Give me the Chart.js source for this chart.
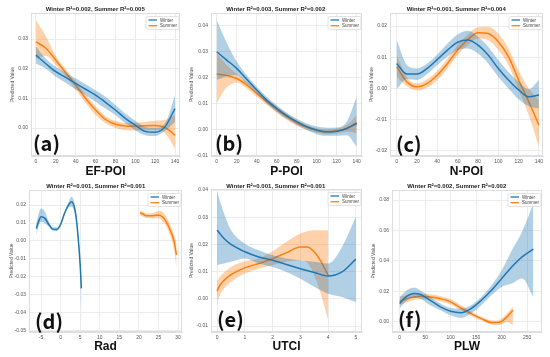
<!DOCTYPE html>
<html>
<head>
<meta charset="utf-8">
<script src="https://cdn.jsdelivr.net/npm/chart.js@4.4.0/dist/chart.umd.min.js"></script>
<style>
body { margin: 0; background: #fff; width: 550px; height: 357px; overflow: hidden; position: relative; }
canvas { position: absolute; }
.tag { position: absolute; font-family: "Noto Sans CJK SC", sans-serif; font-size: 20px; line-height: 20px; color: #111; font-weight: 700; }
</style>
</head>
<body>
<script>
// ---- data ----
const poiX = [0, 10, 20, 30, 40, 50, 60, 70, 80, 90, 100, 110, 120, 130, 140];

// (a) EF-POI
const efWinterMid = [0.0246, 0.0217, 0.019, 0.0171, 0.0151, 0.0131, 0.0111, 0.0087, 0.0061, 0.0033, 0.001, -0.0011, -0.0014, 0.0005, 0.0066];
const efWinterLo  = [0.0218, 0.0200, 0.0173, 0.0153, 0.013, 0.0111, 0.0089, 0.0066, 0.0044, 0.0016, -0.0007, -0.0024, -0.0027, -0.0009, 0.0021];
const efWinterHi  = [0.0274, 0.0234, 0.0207, 0.0187, 0.0167, 0.0148, 0.0128, 0.0106, 0.0078, 0.0049, 0.0025, 0.0004, 0.0001, 0.0016, 0.0111];
const efSummerMid = [0.0291, 0.0269, 0.0229, 0.0187, 0.0145, 0.010, 0.0061, 0.0029, 0.0013, 0.0007, 0.0006, 0.0008, 0.0009, 0.0002, -0.0024];
const efSummerLo  = [0.0235, 0.0243, 0.0212, 0.0175, 0.013, 0.0085, 0.0044, 0.0016, 0.0, -0.0007, -0.0008, -0.0007, -0.0007, -0.0018, -0.0069];
const efSummerHi  = [0.0364, 0.031, 0.0243, 0.0198, 0.0156, 0.0113, 0.0074, 0.004, 0.0025, 0.0018, 0.0018, 0.0021, 0.0025, 0.0027, 0.0044];

// (b) P-POI
const pWinterMid = [0.030, 0.0268, 0.0236, 0.0194, 0.0153, 0.0114, 0.0082, 0.0054, 0.0031, 0.0012, -0.0001, -0.0008, -0.0006, 0.0005, 0.0026];
const pWinterLo  = [0.0191, 0.0206, 0.021, 0.0176, 0.014, 0.0101, 0.0069, 0.0042, 0.0019, -0.0001, -0.0017, -0.0023, -0.0023, -0.0021, -0.0065];
const pWinterHi  = [0.0422, 0.0335, 0.0262, 0.021, 0.0165, 0.0127, 0.0094, 0.0065, 0.0042, 0.0024, 0.0012, 0.0008, 0.0009, 0.0031, 0.0127];
const pSummerMid = [0.0214, 0.0209, 0.0197, 0.0172, 0.014, 0.0108, 0.0078, 0.005, 0.0027, 0.0009, -0.0003, -0.0008, -0.0005, 0.0005, 0.0022];
const pSummerLo  = [0.0101, 0.0163, 0.0182, 0.0159, 0.0127, 0.0096, 0.0065, 0.0037, 0.0015, -0.0001, -0.0012, -0.0018, -0.0015, -0.0008, -0.0014];
const pSummerHi  = [0.0294, 0.0249, 0.0214, 0.0185, 0.0153, 0.0119, 0.009, 0.0062, 0.0037, 0.0019, 0.0006, 0.0003, 0.0005, 0.0019, 0.0056];

// (c) N-POI
const nWinterMid = [0.008, 0.0046, 0.0046, 0.0064, 0.0093, 0.0123, 0.0148, 0.0155, 0.0139, 0.0107, 0.0064, 0.0027, -0.0005, -0.0027, -0.0021];
const nWinterLo  = [-0.0003, 0.0029, 0.0027, 0.0046, 0.0075, 0.0102, 0.0123, 0.0128, 0.0112, 0.008, 0.0037, 0.0, -0.0035, -0.0057, -0.0064];
const nWinterHi  = [0.0155, 0.0075, 0.0064, 0.008, 0.0109, 0.0144, 0.0173, 0.0185, 0.0166, 0.0134, 0.0091, 0.0053, 0.0021, -0.0003, 0.0027];
const nSummerMid = [0.007, 0.0021, 0.0005, 0.0016, 0.0043, 0.008, 0.0123, 0.0157, 0.0179, 0.0176, 0.015, 0.0102, 0.0027, -0.0043, -0.0118];
const nSummerLo  = [0.0037, 0.0007, -0.0007, 0.0003, 0.0027, 0.0064, 0.0107, 0.0139, 0.016, 0.0155, 0.0123, 0.0075, -0.0005, -0.0086, -0.0187];
const nSummerHi  = [0.0107, 0.0035, 0.0016, 0.0029, 0.0057, 0.0096, 0.0139, 0.0174, 0.0196, 0.0198, 0.0176, 0.0128, 0.0057, 0.0, -0.0037];

// (d) Rad
const radWinterX   = [-6.2, -5.5, -5, -4, -3, -2, -1, 0, 1, 2, 2.8, 3.5, 4, 4.5, 5, 5.3];
const radWinterMid = [0.007, 0.0116, 0.0135, 0.0126, 0.0092, 0.0066, 0.0064, 0.0092, 0.0154, 0.020, 0.0219, 0.019, 0.0126, 0.0014, -0.0134, -0.0264];
const radWinterLo  = [0.0033, 0.0089, 0.0107, 0.0098, 0.0079, 0.0057, 0.0055, 0.0083, 0.0144, 0.0187, 0.0191, 0.0163, 0.0107, -0.0004, -0.0171, -0.0469];
const radWinterHi  = [0.0098, 0.0159, 0.0181, 0.0163, 0.0107, 0.0076, 0.0076, 0.0102, 0.0163, 0.0215, 0.0246, 0.0215, 0.0144, 0.0033, -0.0097, -0.019];
const radSummerX   = [20.3, 21, 22, 23, 24, 25, 26, 27, 28, 29, 29.6];
const radSummerMid = [0.0157, 0.015, 0.014, 0.014, 0.0142, 0.0144, 0.0135, 0.0107, 0.006, -0.0004, -0.0078];
const radSummerLo  = [0.0141, 0.0137, 0.0128, 0.0128, 0.0126, 0.0126, 0.0111, 0.0079, 0.0029, -0.0051, -0.0153];
const radSummerHi  = [0.017, 0.0163, 0.0155, 0.0155, 0.0159, 0.0167, 0.0163, 0.0135, 0.0089, 0.0033, -0.0014];

// (e) UTCI
const utciWinterX   = [0, 0.25, 0.5, 1, 1.5, 2, 2.5, 3, 3.5, 4, 4.5, 5];
const utciWinterMid = [0.0253, 0.0222, 0.020, 0.0173, 0.0154, 0.0142, 0.0126, 0.0111, 0.0097, 0.0084, 0.0099, 0.0146];
const utciWinterLo  = [0.0124, 0.013, 0.0136, 0.0148, 0.013, 0.0117, 0.0099, 0.0074, 0.0044, 0.0019, 0.0007, -0.0012];
const utciWinterHi  = [0.0394, 0.0314, 0.0253, 0.0203, 0.0179, 0.016, 0.0148, 0.0142, 0.0136, 0.013, 0.0191, 0.0302];
const utciSummerX   = [0, 0.1, 0.25, 0.5, 1, 1.5, 2, 2.5, 3, 3.25, 3.5, 3.75, 4];
const utciSummerMid = [0.0028, 0.005, 0.0068, 0.0089, 0.0114, 0.013, 0.0148, 0.017, 0.0191, 0.0191, 0.0172, 0.0136, 0.0087];
const utciSummerLo  = [-0.0018, 0.0013, 0.0038, 0.0062, 0.0093, 0.0111, 0.0124, 0.0136, 0.0142, 0.0133, 0.0087, 0.0013, -0.0079];
const utciSummerHi  = [0.0065, 0.0081, 0.0097, 0.0117, 0.0138, 0.0148, 0.0175, 0.021, 0.024, 0.0249, 0.0252, 0.0252, 0.0252];

// (f) PLW
const plwWinterX   = [0, 10, 20, 30, 40, 60, 80, 100, 120, 140, 160, 180, 200, 220, 240, 262];
const plwWinterMid = [0.0121, 0.0158, 0.018, 0.0186, 0.0182, 0.0142, 0.0099, 0.007, 0.0061, 0.0088, 0.0142, 0.0208, 0.0285, 0.0362, 0.0427, 0.0478];
const plwWinterLo  = [0.0088, 0.0127, 0.0153, 0.0158, 0.0153, 0.011, 0.0077, 0.0044, 0.0026, 0.0055, 0.011, 0.0175, 0.023, 0.0252, 0.0285, 0.0164];
const plwWinterHi  = [0.0164, 0.0197, 0.0219, 0.0224, 0.0208, 0.0164, 0.0121, 0.0092, 0.0088, 0.011, 0.0164, 0.0241, 0.034, 0.0471, 0.0592, 0.0778];
const plwSummerX   = [0, 20, 40, 60, 80, 100, 120, 140, 160, 180, 190, 200, 210, 222];
const plwSummerMid = [0.0136, 0.0158, 0.0169, 0.0164, 0.0153, 0.0132, 0.0092, 0.0055, 0.0022, -0.0004, -0.0004, 0.0004, 0.0033, 0.0077];
const plwSummerLo  = [0.011, 0.0136, 0.0149, 0.0147, 0.0136, 0.0114, 0.0077, 0.0039, 0.0009, -0.0018, -0.0022, -0.0015, 0.0, -0.0022];
const plwSummerHi  = [0.0164, 0.018, 0.0186, 0.0182, 0.0171, 0.0149, 0.011, 0.007, 0.0033, 0.0011, 0.0009, 0.0022, 0.0055, 0.0099];

const seriesNames = ['Winter', 'Summer'];
const titles = [
  'Winter R²=0.002, Summer R²=0.005',
  'Winter R²=0.003, Summer R²=0.002',
  'Winter R²=0.001, Summer R²=0.004',
  'Winter R²=0.001, Summer R²=0.001',
  'Winter R²=0.001, Summer R²=0.001',
  'Winter R²=0.002, Summer R²=0.002'
];
const xTitles = ['EF-POI', 'P-POI', 'N-POI', 'Rad', 'UTCI', 'PLW'];
const tags = ['(a)', '(b)', '(c)', '(d)', '(e)', '(f)'];

// ---- layout ----
const BLUE = '#1f77b4', ORANGE = '#ff7f0e';
const BLUE_BAND = 'rgba(31,119,180,0.35)', ORANGE_BAND = 'rgba(255,127,14,0.35)';

Chart.defaults.font.family = '"Liberation Sans", Arial, sans-serif';

// box: canvas [left, top, w, h]; plot: [L, T, R, B] absolute; yt: y title centre x
const panels = [
  { box: [0, 0, 183, 182], plot: [31, 13, 180, 156], yt: 13, x: [-5, 145, 20], y: [-0.0094, 0.0388, 0.01], tag: [33, 133],
    w: [poiX, efWinterMid, efWinterLo, efWinterHi], s: [poiX, efSummerMid, efSummerLo, efSummerHi] },
  { box: [183, 0, 183, 182], plot: [211, 13, 362, 156], yt: 192, x: [-5.7, 145.3, 20], y: [-0.0101, 0.0449, 0.01], tag: [215, 133],
    w: [poiX, pWinterMid, pWinterLo, pWinterHi], s: [poiX, pSummerMid, pSummerLo, pSummerHi] },
  { box: [366, 0, 184, 182], plot: [390, 13, 543, 156], yt: 372, x: [-6.6, 144, 20], y: [-0.0217, 0.0242, 0.01], tag: [396, 134],
    w: [poiX, nWinterMid, nWinterLo, nWinterHi], s: [poiX, nSummerMid, nSummerLo, nSummerHi] },
  { box: [0, 176, 183, 181], plot: [29, 190, 182, 332], yt: 12, x: [-8.07, 31, 5], y: [-0.0507, 0.0284, 0.01], tag: [35, 311],
    w: [radWinterX, radWinterMid, radWinterLo, radWinterHi], s: [radSummerX, radSummerMid, radSummerLo, radSummerHi] },
  { box: [183, 176, 183, 181], plot: [211, 189, 362, 332], yt: 192, x: [-0.22, 5.22, 1], y: [-0.0122, 0.0404, 0.01], tag: [217, 309],
    w: [utciWinterX, utciWinterMid, utciWinterLo, utciWinterHi], s: [utciSummerX, utciSummerMid, utciSummerLo, utciSummerHi] },
  { box: [366, 176, 184, 181], plot: [392, 190, 542, 332], yt: 374, x: [-15, 279, 50], y: [-0.0066, 0.0866, 0.02], tag: [398, 309],
    w: [plwWinterX, plwWinterMid, plwWinterLo, plwWinterHi], s: [plwSummerX, plwSummerMid, plwSummerLo, plwSummerHi] }
];

const pts = (xs, ys) => xs.map((x, i) => ({ x: x, y: ys[i] }));

function bandSets(ser, line, band) {
  const [xs, mid, lo, hi] = ser;
  const common = { pointRadius: 0, cubicInterpolationMode: 'monotone' };
  return [
    { ...common, data: pts(xs, hi), borderWidth: 0, borderColor: 'transparent', fill: false },
    { ...common, data: pts(xs, lo), borderWidth: 0, borderColor: 'transparent', backgroundColor: band, fill: '-1' },
    { ...common, data: pts(xs, mid), borderWidth: 1.5, borderColor: line, fill: false }
  ];
}

const framePlugin = {
  id: 'frame',
  beforeDatasetsDraw(chart) {
    const { ctx, chartArea: a } = chart;
    ctx.save();
    ctx.strokeStyle = '#dedede';
    ctx.lineWidth = 1;
    ctx.strokeRect(a.left + 0.5, a.top + 0.5, a.width - 1, a.height - 1);
    ctx.restore();
  },
  afterDraw(chart) {
    const { ctx, chartArea: a } = chart;
    const w = 33, h = 13, bx = a.right - w - 1, by = a.top + 3.5;
    ctx.save();
    ctx.fillStyle = 'rgba(255,255,255,0.85)';
    ctx.strokeStyle = '#d0d0d0';
    ctx.lineWidth = 0.6;
    ctx.beginPath();
    ctx.roundRect(bx, by, w, h, 1.5);
    ctx.fill();
    ctx.stroke();
    [BLUE, ORANGE].forEach((c, i) => {
      const yy = by + 3.5 + i * 5.7;
      ctx.strokeStyle = c;
      ctx.lineWidth = 1.3;
      ctx.beginPath();
      ctx.moveTo(bx + 2.5, yy);
      ctx.lineTo(bx + 11, yy);
      ctx.stroke();
      ctx.fillStyle = '#444';
      ctx.font = '4.5px "Liberation Sans", Arial, sans-serif';
      ctx.textBaseline = 'middle';
      ctx.fillText(seriesNames[i], bx + 14, yy + 0.3);
    });
    ctx.restore();
  }
};

const fmt = v => (Math.abs(v) < 1e-9 ? 0 : v).toFixed(2);

panels.forEach((p, i) => {
  const [cx, cy, cw, ch] = p.box;
  const [L, T, R, B] = p.plot;
  const cv = document.createElement('canvas');
  cv.width = cw; cv.height = ch;
  cv.style.left = cx + 'px'; cv.style.top = cy + 'px';
  cv.style.width = cw + 'px'; cv.style.height = ch + 'px';
  document.body.appendChild(cv);

  const padLeft = p.yt - cx - 2.5;
  const padRight = cx + cw - R;
  const xTitleY = cy === 0 ? 172 : 347;
  const padBottom = cy + ch - 6 - xTitleY;
  const yW = L - cx - padLeft;
  const xH = cy + ch - padBottom - B;
  const tTop = (cy === 0 ? 9 : 186) - cy - 3;
  const tBottom = T - cy - tTop - 6;

  new Chart(cv, {
    type: 'line',
    data: {
      datasets: [...bandSets(p.w, BLUE, BLUE_BAND), ...bandSets(p.s, ORANGE, ORANGE_BAND)]
    },
    options: {
      responsive: false,
      animation: false,
      devicePixelRatio: 1,
      layout: { padding: { left: padLeft, right: padRight, top: 0, bottom: padBottom } },
      plugins: {
        legend: { display: false },
        tooltip: { enabled: false },
        title: {
          display: true,
          text: titles[i],
          color: '#222',
          font: { size: 6, weight: 'bold', lineHeight: 1 },
          padding: { top: tTop, bottom: tBottom }
        }
      },
      scales: {
        x: {
          type: 'linear',
          min: p.x[0], max: p.x[1],
          ticks: { stepSize: p.x[2], includeBounds: false, color: '#555', font: { size: 5 }, padding: 3, maxRotation: 0, autoSkip: false },
          grid: { color: '#ececec', drawTicks: false },
          border: { color: '#dedede' },
          title: { display: true, text: xTitles[i], color: '#111', font: { size: 12, weight: 'bold', lineHeight: 1 }, padding: 0 },
          afterFit: s => { s.height = xH; s.paddingLeft = 0; s.paddingRight = 0; }
        },
        y: {
          min: p.y[0], max: p.y[1],
          ticks: { stepSize: p.y[2], includeBounds: false, color: '#555', font: { size: 5 }, padding: 3, callback: fmt },
          grid: { color: '#ececec', drawTicks: false },
          border: { color: '#dedede' },
          title: { display: true, text: 'Predicted Value', color: '#555', font: { size: 5, lineHeight: 1 }, padding: 0 },
          afterFit: s => { s.width = yW; s.paddingTop = 0; s.paddingBottom = 0; }
        }
      }
    },
    plugins: [framePlugin]
  });

  const tag = document.createElement('div');
  tag.className = 'tag';
  tag.textContent = tags[i];
  tag.style.left = p.tag[0] + 'px';
  tag.style.top = p.tag[1] + 'px';
  document.body.appendChild(tag);
});
</script>
</body>
</html>
